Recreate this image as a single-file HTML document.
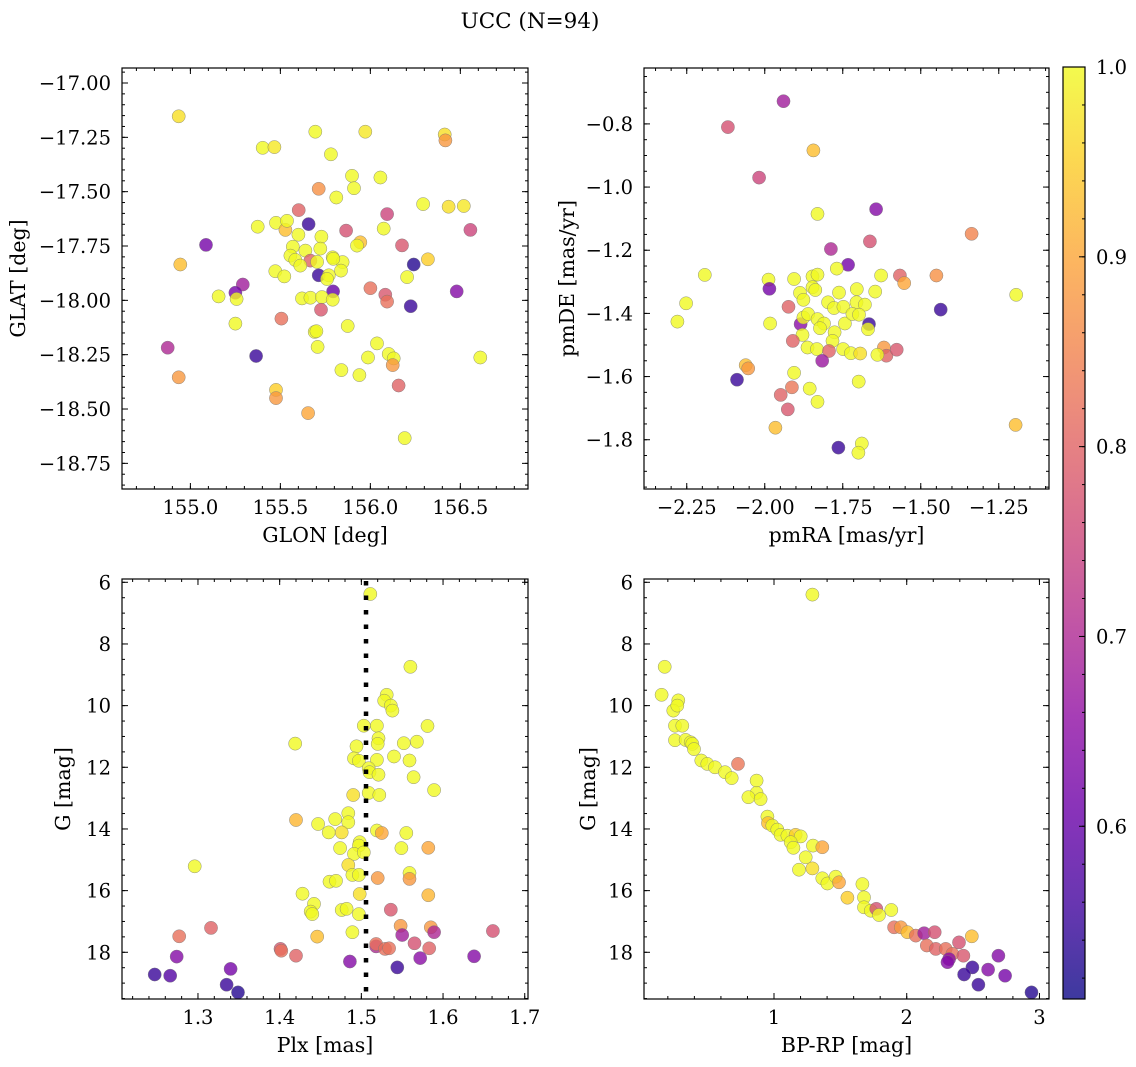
<!DOCTYPE html>
<html><head><meta charset="utf-8">
<style>
html,body{margin:0;padding:0;background:#fff;}
svg{display:block;font-family:"DejaVu Serif","Liberation Serif",serif;}
</style></head>
<body>
<svg id="fig" width="1136" height="1067" viewBox="0 0 1136 1067" xmlns="http://www.w3.org/2000/svg">
<rect x="0" y="0" width="1136" height="1067" fill="#fff"/>
<text x="530" y="28" font-size="21.5" text-anchor="middle">UCC (N=94)</text>
</svg>
<script>
// ---- Panel 1: GLON / GLAT ----
const glon=[154.935,155.694,155.972,156.413,156.417,155.402,155.467,155.781,155.898,156.056,155.909,155.713,155.811,156.293,156.435,156.519,155.602,156.093,155.657,155.865,156.556,155.374,155.476,155.528,155.537,156.074,155.600,155.728,155.087,155.944,155.926,156.176,155.569,155.639,155.722,155.556,155.583,155.667,155.704,155.791,155.846,155.611,155.794,155.837,156.241,156.320,155.472,155.522,155.713,155.769,155.759,156.204,154.944,155.291,155.250,155.157,155.257,155.793,156.000,156.083,156.093,155.620,155.667,155.731,155.791,156.480,156.224,155.726,155.506,155.250,155.874,155.691,155.700,154.874,155.365,155.707,156.037,155.987,156.102,156.130,156.124,154.935,155.839,155.939,156.157,155.476,155.476,155.654,156.611,156.191];
const glat=[-17.153,-17.224,-17.224,-17.237,-17.264,-17.298,-17.295,-17.328,-17.427,-17.435,-17.484,-17.487,-17.527,-17.557,-17.569,-17.566,-17.585,-17.603,-17.649,-17.679,-17.676,-17.661,-17.643,-17.676,-17.634,-17.670,-17.698,-17.707,-17.745,-17.733,-17.748,-17.747,-17.753,-17.771,-17.762,-17.794,-17.814,-17.817,-17.823,-17.802,-17.824,-17.840,-17.809,-17.863,-17.835,-17.811,-17.866,-17.890,-17.885,-17.885,-17.902,-17.893,-17.835,-17.927,-17.965,-17.982,-17.994,-17.959,-17.944,-17.974,-18.006,-17.991,-17.988,-17.985,-17.997,-17.959,-18.027,-18.043,-18.084,-18.107,-18.118,-18.145,-18.142,-18.218,-18.256,-18.214,-18.198,-18.263,-18.247,-18.267,-18.298,-18.354,-18.321,-18.344,-18.392,-18.412,-18.450,-18.519,-18.263,-18.634];
const prob1=[0.97,1,0.98,0.97,0.88,1,0.98,1,1,1,1,0.87,1,1,0.97,0.98,0.8,0.75,0.55,0.77,0.75,1,1,0.93,1,1,1,1,0.62,0.93,1,0.78,1,1,1,1,1,0.8,1,1,1,1,1,1,0.53,0.95,1,1,0.55,1,1,1,0.93,0.68,0.62,1,1,0.6,0.82,0.78,0.82,1,1,1,1,0.64,0.55,0.78,0.82,1,1,1,1,0.7,0.55,1,1,1,1,1,0.88,0.88,1,1,0.8,0.95,0.88,0.9,1,1];
// ---- Panel 2: pmRA / pmDE ----
const pmra=[-1.940,-2.118,-1.844,-2.018,-1.831,-1.643,-1.337,-1.663,-1.788,-1.733,-1.769,-2.192,-1.988,-1.985,-1.906,-1.847,-1.831,-1.847,-1.838,-1.627,-1.567,-1.553,-1.450,-1.194,-2.252,-2.280,-1.887,-1.876,-1.705,-1.762,-1.646,-1.924,-1.797,-1.778,-1.748,-1.706,-1.679,-1.436,-1.983,-1.885,-1.876,-1.861,-1.831,-1.810,-1.823,-1.743,-1.719,-1.698,-1.666,-1.669,-1.776,-1.879,-1.910,-1.783,-1.863,-1.833,-1.794,-1.749,-1.724,-1.694,-1.618,-1.610,-1.577,-1.639,-1.816,-2.061,-2.053,-2.089,-1.906,-1.699,-1.913,-1.856,-1.949,-1.831,-1.926,-1.966,-1.196,-1.764,-1.689,-1.700];
const pmde=[-0.728,-0.810,-0.884,-0.970,-1.085,-1.070,-1.148,-1.172,-1.196,-1.246,-1.258,-1.278,-1.293,-1.322,-1.291,-1.283,-1.277,-1.317,-1.326,-1.280,-1.280,-1.304,-1.280,-1.341,-1.368,-1.426,-1.335,-1.357,-1.323,-1.334,-1.331,-1.379,-1.365,-1.383,-1.379,-1.365,-1.372,-1.388,-1.432,-1.434,-1.413,-1.402,-1.418,-1.432,-1.447,-1.432,-1.402,-1.404,-1.434,-1.450,-1.460,-1.468,-1.487,-1.487,-1.508,-1.513,-1.519,-1.513,-1.526,-1.527,-1.508,-1.534,-1.515,-1.531,-1.550,-1.564,-1.574,-1.610,-1.588,-1.616,-1.634,-1.638,-1.658,-1.680,-1.704,-1.762,-1.753,-1.825,-1.812,-1.841];
const prob2=[0.68,0.77,0.93,0.75,1,0.64,0.85,0.77,0.7,0.62,1,1,1,0.62,1,1,1,1,1,1,0.8,0.9,0.87,1,1,1,1,1,1,1,1,0.8,1,1,1,1,1,0.55,1,0.65,1,1,1,1,1,1,1,1,0.55,1,1,1,0.8,1,1,1,0.8,1,1,0.97,0.88,0.8,0.78,1,0.67,0.93,0.88,0.55,1,1,0.83,1,0.8,1,0.78,0.93,0.93,0.55,1,1];
// ---- Panel 3: Plx / G ----
const plx=[1.511,1.560,1.531,1.528,1.536,1.538,1.503,1.519,1.581,1.419,1.521,1.520,1.552,1.568,1.494,1.491,1.497,1.519,1.540,1.559,1.509,1.510,1.521,1.564,1.589,1.490,1.509,1.522,1.484,1.468,1.484,1.420,1.447,1.460,1.476,1.519,1.525,1.555,1.498,1.497,1.549,1.582,1.474,1.491,1.503,1.484,1.296,1.489,1.497,1.559,1.559,1.520,1.461,1.469,1.428,1.498,1.582,1.442,1.438,1.440,1.476,1.482,1.497,1.536,1.548,1.585,1.589,1.550,1.661,1.489,1.446,1.277,1.316,1.401,1.402,1.420,1.518,1.518,1.529,1.534,1.565,1.583,1.572,1.638,1.486,1.544,1.274,1.247,1.266,1.340,1.335,1.349];
const gmag3=[6.38,8.74,9.65,9.84,10.0,10.16,10.65,10.65,10.66,11.23,11.06,11.24,11.22,11.17,11.32,11.71,11.79,11.76,11.65,11.78,12.03,12.16,12.24,12.32,12.74,12.90,12.83,12.90,13.49,13.68,13.78,13.71,13.84,14.11,14.11,14.05,14.13,14.13,14.43,14.54,14.62,14.61,14.62,14.81,14.76,15.17,15.21,15.49,15.49,15.43,15.62,15.59,15.71,15.68,16.10,16.11,16.15,16.43,16.68,16.76,16.63,16.59,16.76,16.62,17.14,17.19,17.35,17.44,17.31,17.35,17.49,17.48,17.21,17.89,17.95,18.11,17.81,17.73,17.89,17.87,17.71,17.87,18.19,18.13,18.30,18.49,18.14,18.72,18.76,18.54,19.05,19.30];
const prob3=[1,1,1,1,1,1,1,1,1,1,1,1,1,1,1,1,1,1,1,1,1,1,1,1,1,0.97,1,1,1,1,1,0.92,1,1,0.97,1,0.9,1,1,1,1,0.9,1,1,1,0.97,1,1,1,1,0.88,0.88,1,1,1,0.97,0.92,1,1,1,1,1,1,0.78,0.88,0.88,0.7,0.68,0.77,1,0.93,0.82,0.8,0.78,0.82,0.8,0.7,0.82,0.82,0.82,0.77,0.8,0.65,0.64,0.64,0.55,0.64,0.55,0.58,0.62,0.55,0.53];
// ---- Panel 4: BP-RP / G ----
const bprp=[1.289,0.176,0.153,0.279,0.241,0.271,0.254,0.309,0.254,0.334,0.372,0.384,0.397,0.452,0.497,0.555,0.729,0.631,0.681,0.869,0.869,0.807,0.899,0.950,0.955,0.987,1.025,1.050,1.101,1.163,1.201,1.126,1.146,1.294,1.364,1.239,1.289,1.188,1.364,1.402,1.465,1.490,1.666,1.553,1.678,1.678,1.729,1.771,1.791,1.884,1.905,1.955,2.005,2.068,2.131,2.211,2.151,2.219,2.294,2.344,2.394,2.427,2.319,2.307,2.490,2.495,2.432,2.613,2.691,2.741,2.540,2.940];
const gmag4=[6.40,8.74,9.65,9.83,10.16,10.0,10.65,10.65,11.12,11.11,11.19,11.24,11.41,11.78,11.89,12.0,11.89,12.16,12.35,12.43,12.83,12.97,13.03,13.60,13.81,13.89,14.02,14.19,14.22,14.19,14.24,14.43,14.61,14.54,14.59,14.92,15.28,15.32,15.60,15.77,15.55,15.73,15.79,16.23,16.22,16.54,16.65,16.59,16.79,16.63,17.19,17.19,17.35,17.46,17.38,17.35,17.78,17.89,17.89,18.05,17.68,18.11,18.22,18.32,17.48,18.49,18.72,18.56,18.11,18.76,19.05,19.30];
const prob4=[1,1,1,1,1,1,1,1,1,1,1,1,1,1,1,1,0.83,1,1,1,1,1,1,1,0.93,1,1,1,1,0.95,1,1,1,1,0.9,1,0.97,1,1,1,1,0.9,1,0.95,1,1,1,0.77,1,1,0.82,0.88,0.93,0.82,0.68,0.77,0.82,0.8,0.82,0.82,0.77,0.78,0.65,0.64,0.93,0.55,0.55,0.64,0.64,0.62,0.55,0.53];
// tick values
const p1xTicks=[155.0,155.5,156.0,156.5];
const p1yTicks=[-17.00,-17.25,-17.50,-17.75,-18.00,-18.25,-18.50,-18.75];
const p2xTicks=[-2.25,-2.00,-1.75,-1.50,-1.25];
const p2yTicks=[-0.8,-1.0,-1.2,-1.4,-1.6,-1.8];
const p3xTicks=[1.3,1.4,1.5,1.6,1.7];
const gTicks=[6,8,10,12,14,16,18];
const p4xTicks=[1,2,3];
const cbTicks=[0.6,0.7,0.8,0.9,1.0];
const plxLine=1.5057;
const vmin=0.509, vmax=1.0;

const NS="http://www.w3.org/2000/svg";
const svg=document.getElementById('fig');
const TF=19.5, LF=20.5;
function el(tag,attrs,parent){const e=document.createElementNS(NS,tag);for(const k in attrs)e.setAttribute(k,attrs[k]);(parent||svg).appendChild(e);return e;}
const stops=[[13,8,135],[65,4,157],[106,0,168],[143,13,164],[177,42,144],[204,71,120],[225,100,98],[242,132,75],[252,166,54],[252,206,37],[240,249,33]];
function plasma(t){t=Math.max(0,Math.min(1,t));const f=t*10,i=Math.min(9,Math.floor(f)),r=f-i;const a=stops[i],b=stops[i+1];return 'rgb('+a.map((v,k)=>Math.round(v+(b[k]-v)*r)).join(',')+')';}
function fmt(v,d){return (v<0?'\u2212':'')+Math.abs(v).toFixed(d);}

function panel(name,box,xd,yd,xt,yt,xdec,ydec,xminor,yminor,xlab,ylab,ylabX,xs,ys,ps){
  const [L,T,R,B]=box;
  const sx=v=>L+(v-xd[0])/(xd[1]-xd[0])*(R-L);
  const sy=v=>T+(v-yd[0])/(yd[1]-yd[0])*(B-T);
  const g=el('g',{});
  
  
  const cp=el('clipPath',{id:'cp-'+name},g);el('rect',{x:L,y:T,width:R-L,height:B-T},cp);
  const pts=el('g',{'clip-path':'url(#cp-'+name+')'},g);
  
  
  for(let i=0;i<xs.length;i++){
    const c=el('circle',{cx:sx(xs[i]).toFixed(1),cy:sy(ys[i]).toFixed(1),r:6.6,fill:plasma((ps[i]-vmin)/(vmax-vmin)),'fill-opacity':0.8,stroke:'#777','stroke-width':0.5,'stroke-opacity':0.8},pts);
    
    
  }
  const xlo=Math.min(xd[0],xd[1]),xhi=Math.max(xd[0],xd[1]);
  for(let v=Math.ceil(xlo/xminor-1e-6)*xminor;v<=xhi;v+=xminor){const x=sx(v);el('line',{x1:x,y1:B,x2:x,y2:B-3,stroke:'#000','stroke-width':1},g);el('line',{x1:x,y1:T,x2:x,y2:T+3,stroke:'#000','stroke-width':1},g);}
  const ylo=Math.min(yd[0],yd[1]),yhi=Math.max(yd[0],yd[1]);
  for(let v=Math.ceil(ylo/yminor-1e-6)*yminor;v<=yhi;v+=yminor){const y=sy(v);el('line',{x1:L,y1:y,x2:L+3,y2:y,stroke:'#000','stroke-width':1},g);el('line',{x1:R,y1:y,x2:R-3,y2:y,stroke:'#000','stroke-width':1},g);}
  xt.forEach(v=>{const x=sx(v);el('line',{x1:x,y1:B,x2:x,y2:B-6,stroke:'#000','stroke-width':1},g);el('line',{x1:x,y1:T,x2:x,y2:T+6,stroke:'#000','stroke-width':1},g);
    const t=el('text',{x:x,y:B+25,'font-size':TF,'text-anchor':'middle'},g);t.textContent=fmt(v,xdec);
    
    });
  yt.forEach(v=>{const y=sy(v);el('line',{x1:L,y1:y,x2:L+6,y2:y,stroke:'#000','stroke-width':1},g);el('line',{x1:R,y1:y,x2:R-6,y2:y,stroke:'#000','stroke-width':1},g);
    const t=el('text',{x:L-11,y:y+7,'font-size':TF,'text-anchor':'end'},g);t.textContent=fmt(v,ydec);
    
    });
  el('rect',{x:L,y:T,width:R-L,height:B-T,fill:'none',stroke:'#000','stroke-width':1.2},g);
  const xl=el('text',{x:(L+R)/2,y:B+53,'font-size':LF,'text-anchor':'middle'},g);xl.textContent=xlab;
  
  
  const yl=el('text',{x:ylabX,y:(T+B)/2,'font-size':LF,'text-anchor':'middle',transform:'rotate(-90 '+ylabX+' '+(T+B)/2+')'},g);yl.textContent=ylab;
  
  
  return {sx,sy,g};
}
panel('sky',[122,68,528,489],[154.62,156.876],[-16.931,-18.868],p1xTicks,p1yTicks,1,2,0.1,0.05,'GLON [deg]','GLAT [deg]',25,glon,glat,prob1);
panel('pm',[644,68,1049,489],[-2.387,-1.089],[-0.623,-1.956],p2xTicks,p2yTicks,2,1,0.05,0.05,'pmRA [mas/yr]','pmDE [mas/yr]',574,pmra,pmde,prob2);
const p3=panel('plx',[122,579,528,999],[1.207,1.704],[5.893,19.515],p3xTicks,gTicks,1,0,0.02,0.5,'Plx [mas]','G [mag]',70,plx,gmag3,prob3);
panel('cmd',[644,579,1049,999],[0.0204,3.072],[5.893,19.515],p4xTicks,gTicks,0,0,0.2,0.5,'BP-RP [mag]','G [mag]',595,bprp,gmag4,prob4);
const vl=el('line',{x1:p3.sx(plxLine),y1:581,x2:p3.sx(plxLine),y2:999,stroke:'#000','stroke-width':4.5,'stroke-dasharray':'4.5 10'});


const CL=1063,CR=1085,CT=67,CB=999;
const defs=el('defs',{});const lg=el('linearGradient',{id:'cbg',x1:0,y1:1,x2:0,y2:0},defs);
for(let i=0;i<=20;i++){el('stop',{offset:i/20,'stop-color':plasma(i/20)},lg);}
const cb=el('g',{});


el('rect',{x:CL,y:CT,width:CR-CL,height:CB-CT,fill:'url(#cbg)','fill-opacity':0.8},cb);
const cy=v=>CB-(v-vmin)/(vmax-vmin)*(CB-CT);
for(let v=0.52;v<=1.0001;v+=0.02){el('line',{x1:CR,y1:cy(v),x2:CR-3,y2:cy(v),stroke:'#000','stroke-width':1},cb);}
cbTicks.forEach(v=>{el('line',{x1:CR,y1:cy(v),x2:CR-6,y2:cy(v),stroke:'#000','stroke-width':1},cb);
  const t=el('text',{x:1096,y:cy(v)+7,'font-size':TF},cb);t.textContent=v.toFixed(1);
  
  });
el('rect',{x:CL,y:CT,width:CR-CL,height:CB-CT,fill:'none',stroke:'#000','stroke-width':1.2},cb);
</script>
</body></html>
